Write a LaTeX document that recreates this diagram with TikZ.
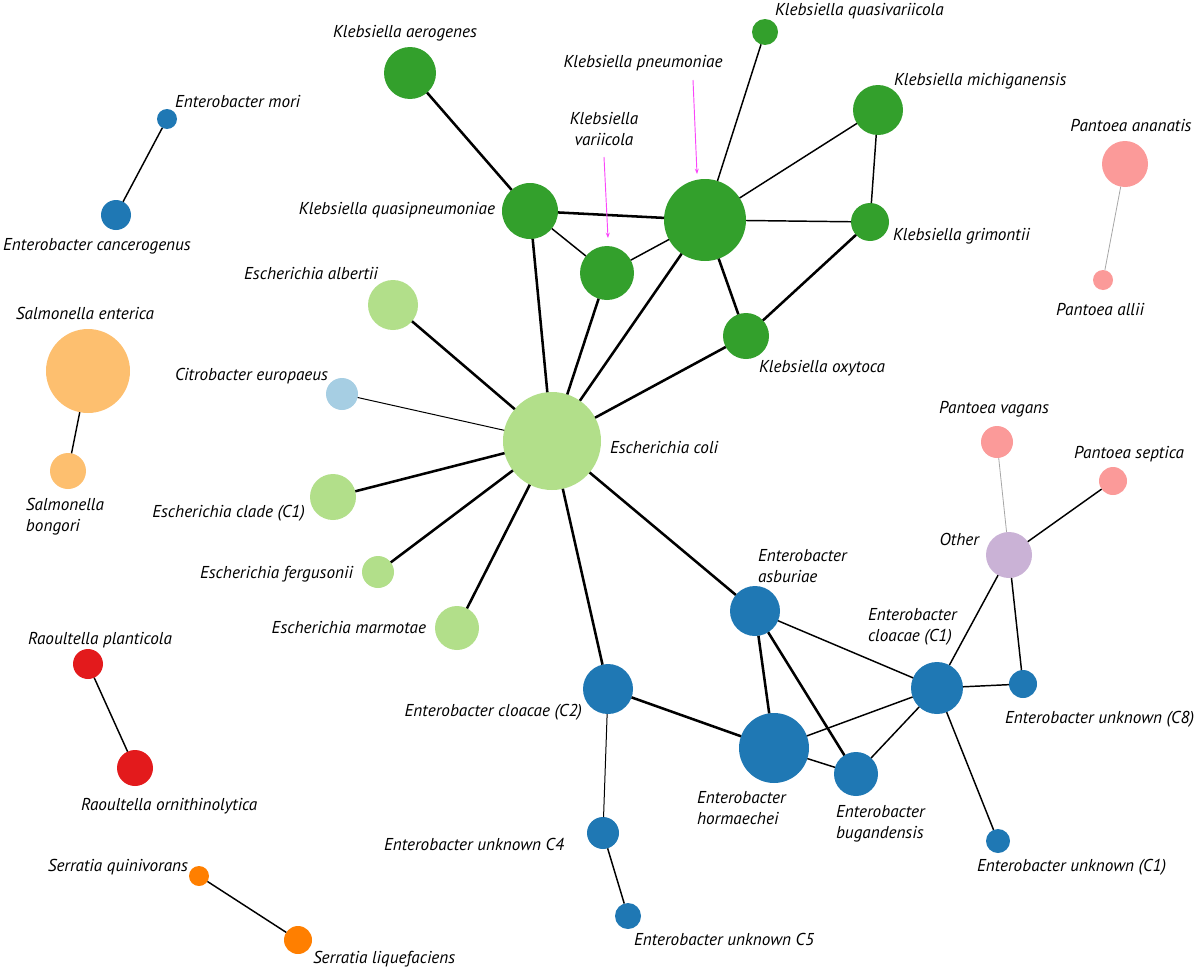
\documentclass[tikz,border=0pt]{standalone}
\usepackage{fontspec}
\setmainfont{PT Sans}
\usetikzlibrary{arrows.meta}
\definecolor{kgreen}{HTML}{33A02C}
\definecolor{lgreen}{HTML}{B2DF8A}
\definecolor{eblue}{HTML}{1F78B4}
\definecolor{lblue}{HTML}{A6CEE3}
\definecolor{lorange}{HTML}{FDBF6F}
\definecolor{rred}{HTML}{E31A1C}
\definecolor{sorange}{HTML}{FF7F00}
\definecolor{ppink}{HTML}{FB9A99}
\definecolor{ppurple}{HTML}{CAB2D6}
\definecolor{mag}{RGB}{250,70,250}
\begin{document}
\begin{tikzpicture}[x=0.75pt,y=-0.75pt,
  sp/.style={circle,inner sep=0pt,outer sep=0pt,draw=none,minimum size={#1*1.5pt}},
  lab/.style={inner sep=0pt,outer sep=0pt,font=\itshape\fontsize{12.9}{15.4}\selectfont,text=black},
  thk/.style={line width=1.9pt,black},
  med/.style={line width=1.1pt,black},
  thn/.style={line width=0.75pt,black},
  gry/.style={line width=0.6pt,black!35},
  arr/.style={mag,line width=0.7pt,-{Stealth[length=4pt,width=3pt]}}]
\useasboundingbox (0,0) rectangle (1200,967);
% nodes
\node[sp=10,fill=eblue] (mori) at (167,119) {};
\node[sp=15,fill=eblue] (canc) at (116,215) {};
\node[sp=26,fill=kgreen] (aer) at (410,73) {};
\node[sp=13,fill=kgreen] (qvar) at (765,32) {};
\node[sp=41,fill=kgreen] (pneu) at (705,220) {};
\node[sp=25,fill=kgreen] (mich) at (878,110) {};
\node[sp=28,fill=kgreen] (qpn) at (530,211) {};
\node[sp=27,fill=kgreen] (vari) at (607,273) {};
\node[sp=19,fill=kgreen] (grim) at (870,222) {};
\node[sp=23,fill=kgreen] (oxy) at (746,336) {};
\node[sp=25,fill=lgreen] (albe) at (393,305) {};
\node[sp=42,fill=lorange] (ente) at (88,371) {};
\node[sp=16,fill=lblue] (citro) at (342,394) {};
\node[sp=49,fill=lgreen] (coli) at (552,441) {};
\node[sp=18,fill=lorange] (bong) at (68,471) {};
\node[sp=23,fill=lgreen] (clade) at (333,497) {};
\node[sp=16,fill=lgreen] (ferg) at (378,572) {};
\node[sp=22,fill=lgreen] (marm) at (457,628) {};
\node[sp=23,fill=ppink] (anan) at (1125,164) {};
\node[sp=10,fill=ppink] (allii) at (1103,280) {};
\node[sp=16,fill=ppink] (vag) at (997,442) {};
\node[sp=14,fill=ppink] (sept) at (1113,481) {};
\node[sp=23,fill=ppurple] (other) at (1009,555) {};
\node[sp=25,fill=eblue] (asbu) at (755,611) {};
\node[sp=26,fill=eblue] (cloC1) at (937,688) {};
\node[sp=14,fill=eblue] (unkC8) at (1023,684) {};
\node[sp=15,fill=rred] (plan) at (88,664) {};
\node[sp=25,fill=eblue] (cloC2) at (608,689) {};
\node[sp=35,fill=eblue] (horm) at (774,748) {};
\node[sp=22,fill=eblue] (buga) at (856,774) {};
\node[sp=18,fill=rred] (orni) at (135,768) {};
\node[sp=16,fill=eblue] (unkC4) at (603,833) {};
\node[sp=12,fill=eblue] (unkC1) at (998,841) {};
\node[sp=10,fill=sorange] (quin) at (199,876) {};
\node[sp=14,fill=sorange] (lique) at (298,940) {};
\node[sp=13,fill=eblue] (unkC5) at (628,916) {};
% edges
\draw[med] (mori) -- (canc);
\draw[thk] (aer) -- (qpn);
\draw[med] (qvar) -- (pneu);
\draw[thk] (qpn) -- (pneu);
\draw[med] (qpn) -- (vari);
\draw[med] (vari) -- (pneu);
\draw[med] (pneu) -- (mich);
\draw[med] (mich) -- (grim);
\draw[med] (pneu) -- (grim);
\draw[thk] (grim) -- (oxy);
\draw[thk] (pneu) -- (oxy);
\draw[thk] (qpn) -- (coli);
\draw[thk] (vari) -- (coli);
\draw[thk] (pneu) -- (coli);
\draw[thk] (oxy) -- (coli);
\draw[thk] (albe) -- (coli);
\draw[thn] (citro) -- (coli);
\draw[thk] (clade) -- (coli);
\draw[thk] (ferg) -- (coli);
\draw[thk] (marm) -- (coli);
\draw[thk] (coli) -- (cloC2);
\draw[thk] (coli) -- (asbu);
\draw[thk] (cloC2) -- (horm);
\draw[thn] (cloC2) -- (unkC4);
\draw[thk] (asbu) -- (horm);
\draw[thk] (asbu) -- (buga);
\draw[med] (asbu) -- (cloC1);
\draw[med] (horm) -- (cloC1);
\draw[med] (horm) -- (buga);
\draw[med] (buga) -- (cloC1);
\draw[med] (cloC1) -- (unkC8);
\draw[med] (cloC1) -- (other);
\draw[med] (other) -- (unkC8);
\draw[med] (cloC1) -- (unkC1);
\draw[med] (other) -- (sept);
\draw[gry] (other) -- (vag);
\draw[gry] (anan) -- (allii);
\draw[med] (unkC4) -- (unkC5);
\draw[med] (ente) -- (bong);
\draw[med] (plan) -- (orni);
\draw[med] (quin) -- (lique);
% labels
\node[lab,anchor=base west] (lmori) at (175,107) {Enterobacter mori};
\node[lab,anchor=base] (lcanc) at (97,250) {Enterobacter cancerogenus};
\node[lab,anchor=base] (laer) at (405,37) {Klebsiella aerogenes};
\node[lab,anchor=base west] (lqvar) at (775,16) {Klebsiella quasivariicola};
\node[lab,anchor=base] (lpneu) at (643,67) {Klebsiella pneumoniae};
\node[lab,anchor=base,align=center] (lvari) at (604,145) {Klebsiella\\variicola};
\node[lab,anchor=base west] (lmich) at (894,85) {Klebsiella michiganensis};
\node[lab,anchor=base east] (lqpn) at (495,214) {Klebsiella quasipneumoniae};
\node[lab,anchor=base west] (lgrim) at (893,240) {Klebsiella grimontii};
\node[lab,anchor=base west] (loxy) at (759,372) {Klebsiella oxytoca};
\node[lab,anchor=base] (lanan) at (1131,131) {Pantoea ananatis};
\node[lab,anchor=base] (lallii) at (1100,315) {Pantoea allii};
\node[lab,anchor=base] (lalbe) at (311,279) {Escherichia albertii};
\node[lab,anchor=base] (lente) at (85,319) {Salmonella enterica};
\node[lab,anchor=base east] (lcitro) at (328,380) {Citrobacter europaeus};
\node[lab,anchor=base west] (lcoli) at (610,453) {Escherichia coli};
\node[lab,anchor=base west,align=left] (lbong) at (26,531) {Salmonella\\bongori};
\node[lab,anchor=base east] (lclade) at (305,517) {Escherichia clade (C1)};
\node[lab,anchor=base east] (lferg) at (353,578) {Escherichia fergusonii};
\node[lab,anchor=base east] (lmarm) at (426,633) {Escherichia marmotae};
\node[lab,anchor=base] (lvag) at (994,413) {Pantoea vagans};
\node[lab,anchor=base] (lsept) at (1129,458) {Pantoea septica};
\node[lab,anchor=base east] (lother) at (979,545) {Other};
\node[lab,anchor=base west,align=left] (lasbu) at (758,582) {Enterobacter\\asburiae};
\node[lab,anchor=base west,align=left] (lcloC1) at (868,641) {Enterobacter\\cloacae (C1)};
\node[lab,anchor=base west] (lunkC8) at (1005,723) {Enterobacter unknown (C8)};
\node[lab,anchor=base] (lplan) at (100,644) {Raoultella planticola};
\node[lab,anchor=base east] (lcloC2) at (582,716) {Enterobacter cloacae (C2)};
\node[lab,anchor=base west,align=left] (lhorm) at (697,824) {Enterobacter\\hormaechei};
\node[lab,anchor=base west,align=left] (lbuga) at (836,838) {Enterobacter\\bugandensis};
\node[lab,anchor=base west] (lorni) at (81,810) {Raoultella ornithinolytica};
\node[lab,anchor=base east] (lunkC4) at (564,850) {Enterobacter unknown C4};
\node[lab,anchor=base west] (lunkC1) at (977,871) {Enterobacter unknown (C1)};
\node[lab,anchor=base east] (lquin) at (188,871) {Serratia quinivorans};
\node[lab,anchor=base west] (llique) at (313,963) {Serratia liquefaciens};
\node[lab,anchor=base west] (lunkC5) at (634,945) {Enterobacter unknown C5};
% arrows
\coordinate (apn) at (693,80);
\coordinate (apnend) at (697,174);
\coordinate (ava) at (604,157);
\coordinate (avaend) at (608,238);
\draw[arr] (apn) -- (apnend);
\draw[arr] (ava) -- (avaend);
\end{tikzpicture}
\end{document}
